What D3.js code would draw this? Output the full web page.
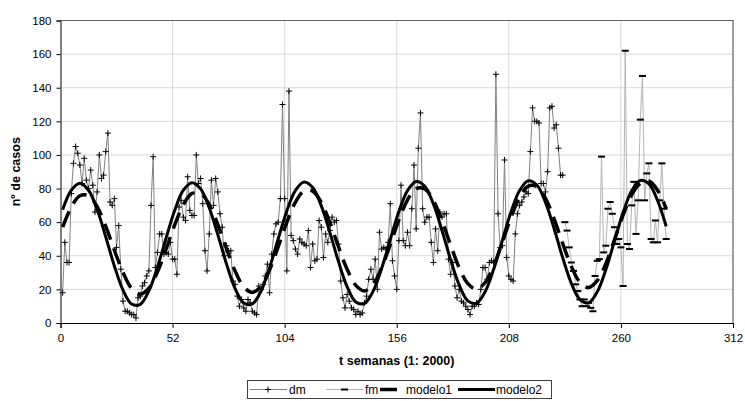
<!DOCTYPE html>
<html>
<head>
<meta charset="utf-8">
<script src="https://cdn.jsdelivr.net/npm/d3@7"></script>
<style>
  body { margin: 0; background: #fff; }
  text { font-family: "Liberation Sans", Arial, sans-serif; }
</style>
</head>
<body>
<div id="chart"></div>
<script>
// weekly cases, observed (dm) then forecast period (fm)
const dmStart = 1;
const dmValues = [
  18,48,36,36,77,95,105,101,94,83,
  98,85,80,91,82,66,78,100,86,88,
  102,113,72,70,74,45,58,32,13,7,
  7,6,5,5,3,15,16,22,24,28,
  31,70,99,33,42,53,53,41,42,41,
  48,38,38,29,69,73,63,61,87,67,
  64,64,100,83,86,71,43,31,53,85,
  70,86,78,65,57,40,46,43,43,25,
  23,16,10,14,9,7,14,12,7,6,
  5,22,20,23,28,35,18,41,53,59,
  60,74,130,74,31,138,52,49,44,41,
  50,48,47,46,55,33,47,37,38,61,
  57,39,53,48,55,63,60,61,47,25,
  15,9,17,13,9,8,5,7,5,6,
  12,16,26,32,26,38,20,54,44,45,
  44,48,71,37,28,20,49,82,49,46,
  54,46,68,94,56,104,125,68,60,63,
  63,48,36,56,43,66,63,65,65,38,
  29,36,22,15,20,13,12,10,8,5,
  10,10,12,11,20,33,33,26,36,37,
  36,148,65,45,46,97,39,28,26,25,
  53,65,70,72,75,78,77,102,128,120,
  120,119,83,83,78,90,128,129,116,118,
  104,88,88
];
const fmStart = 234;
const fmValues = [
  60,55,45,36,31,23,19,14,10,14,
  10,12,9,7,28,37,38,99,42,46,
  68,72,65,57,47,50,45,22,162,47,
  44,70,84,53,73,121,147,73,89,95,
  50,48,61,48,73,95,68,50
];
// model curves read every 4 weeks
const modelWeeks = d3.range(1, 282, 4);
const modelo1 = [
  57.0,68.9,75.7,75.8,69.2,57.5,43.3,30.0,20.6,17.2,
  20.7,30.4,44.0,58.4,70.4,77.1,77.1,70.5,58.6,44.3,
  30.9,21.5,18.2,21.8,31.6,45.4,59.9,71.9,78.6,78.5,
  71.7,59.7,45.3,31.9,22.4,19.1,22.9,32.9,46.7,61.3,
  73.3,80.0,79.8,72.9,60.8,46.3,32.8,23.4,20.1,24.1,
  34.1,48.1,62.8,74.8,81.5,81.2,74.2,61.9,47.3,33.7,
  24.2,21.1,25.2,35.3,49.5,64.2,76.3,83.0,84.5,79.0,
  68.0
];
const modelo2 = [
  67.4,79.0,83.2,79.0,67.5,51.2,33.9,19.6,11.3,11.1,
  19.1,33.3,50.6,67.1,79.0,83.5,79.8,68.6,52.5,35.2,
  20.5,11.9,11.4,18.9,32.9,50.1,66.7,78.9,83.9,80.6,
  69.7,53.8,36.4,21.5,12.5,11.6,18.8,32.5,49.7,66.4,
  78.8,84.2,81.4,70.8,55.0,37.6,22.5,13.2,11.8,18.6,
  32.1,49.2,66.0,78.8,84.6,82.1,71.8,56.2,38.8,23.6,
  13.9,12.0,18.5,31.7,48.7,65.7,78.7,84.8,82.8,72.9,
  57.5
];
const xTicks = [0, 52, 104, 156, 208, 260, 312];
const yTicks = [0, 20, 40, 60, 80, 100, 120, 140, 160, 180];

const W = 745, H = 401;
const svg = d3.select("#chart").append("svg").attr("width", W).attr("height", H);

const x = d3.scaleLinear().domain([0, 312]).range([60.5, 733]);
const y = d3.scaleLinear().domain([0, 180]).range([323, 20.5]);

const dm = dmValues.map((v, i) => ({t: dmStart + i, v: v}));
const fm = fmValues.map((v, i) => ({t: fmStart + i, v: v}));
const m1 = modelWeeks.map((t, i) => ({t: t, v: modelo1[i]}));
const m2 = modelWeeks.map((t, i) => ({t: t, v: modelo2[i]}));

//grid
svg.append("g").selectAll("line").data(yTicks.slice(1, -1)).enter().append("line")
  .attr("x1", x(0)).attr("x2", x(312))
  .attr("y1", d => y(d)).attr("y2", d => y(d))
  .attr("stroke", "#d9d9d9").attr("stroke-width", 1);
svg.append("g").selectAll("line").data(xTicks.slice(1, -1)).enter().append("line")
  .attr("x1", d => x(d)).attr("x2", d => x(d))
  .attr("y1", y(0)).attr("y2", y(180))
  .attr("stroke", "#d9d9d9").attr("stroke-width", 1);

//frame top and right
svg.append("path")
  .attr("d", "M" + x(0) + "," + y(180) + "H" + x(312) + "V" + y(0))
  .attr("fill", "none").attr("stroke", "#606060").attr("stroke-width", 1.2);

//axes
const yAxis = svg.append("g").attr("transform", "translate(" + x(0) + ",0)")
  .call(d3.axisLeft(y).tickValues(yTicks).tickSize(4).tickPadding(5));
const xAxis = svg.append("g").attr("transform", "translate(0," + y(0) + ")")
  .call(d3.axisBottom(x).tickValues(xTicks).tickSize(5).tickPadding(6));
[yAxis, xAxis].forEach(a => {
  a.selectAll("text").attr("font-size", 11.5).attr("fill", "#000")
    .style("font-family", "'Liberation Sans', Arial, sans-serif");
  a.selectAll("line, path").attr("stroke", "#000");
});

svg.append("text").attr("x", 396.75).attr("y", 365)
  .attr("text-anchor", "middle").attr("font-size", 12.5).attr("font-weight", "bold")
  .text("t semanas (1: 2000)");
svg.append("text").attr("transform", "translate(20,171.75) rotate(-90)")
  .attr("text-anchor", "middle").attr("font-size", 12.5).attr("font-weight", "bold")
  .text("nº de casos");

const line = d3.line().x(d => x(d.t)).y(d => y(d.v));
const smooth = d3.line().x(d => x(d.t)).y(d => y(d.v)).curve(d3.curveCatmullRom.alpha(0.5));

const plusPath = "M-3,0H3M0,-3V3";

// dm series
svg.append("path").datum(dm).attr("d", line)
  .attr("fill", "none").attr("stroke", "#808080").attr("stroke-width", 1);
svg.append("g").selectAll("path").data(dm).enter().append("path")
  .attr("d", plusPath)
  .attr("transform", d => "translate(" + x(d.t) + "," + y(d.v) + ")")
  .attr("stroke", "#000").attr("stroke-width", 1).attr("fill", "none");

// fm series
svg.append("path").datum(fm).attr("d", line)
  .attr("fill", "none").attr("stroke", "#b4b4b4").attr("stroke-width", 1);
svg.append("g").selectAll("rect").data(fm).enter().append("rect")
  .attr("x", d => x(d.t) - 3.5).attr("y", d => y(d.v) - 1)
  .attr("width", 7).attr("height", 2).attr("fill", "#000");

// models
svg.append("path").datum(m1).attr("d", smooth)
  .attr("fill", "none").attr("stroke", "#000").attr("stroke-width", 3.5)
  .attr("stroke-dasharray", "17,9");
svg.append("path").datum(m2).attr("d", smooth)
  .attr("fill", "none").attr("stroke", "#000").attr("stroke-width", 3);

//legend
const lg = svg.append("g");
lg.append("rect").attr("x", 247.5).attr("y", 380.5).attr("width", 304).attr("height", 18)
  .attr("fill", "#fff").attr("stroke", "#404040").attr("stroke-width", 1);
const ly = 389.5;
lg.append("line").attr("x1", 250).attr("x2", 287).attr("y1", ly).attr("y2", ly)
  .attr("stroke", "#808080").attr("stroke-width", 1);
lg.append("path").attr("d", plusPath).attr("transform", "translate(268," + ly + ")")
  .attr("stroke", "#000").attr("fill", "none");
lg.append("line").attr("x1", 326).attr("x2", 363).attr("y1", ly).attr("y2", ly)
  .attr("stroke", "#b4b4b4").attr("stroke-width", 1);
lg.append("rect").attr("x", 341).attr("y", ly - 1).attr("width", 7).attr("height", 2).attr("fill", "#000");
lg.append("line").attr("x1", 380).attr("x2", 403).attr("y1", ly).attr("y2", ly)
  .attr("stroke", "#000").attr("stroke-width", 3.5).attr("stroke-dasharray", "17,9");
lg.append("line").attr("x1", 458).attr("x2", 495).attr("y1", ly).attr("y2", ly)
  .attr("stroke", "#000").attr("stroke-width", 3);
const legendText = [["dm", 289], ["fm", 365], ["modelo1", 406], ["modelo2", 496]];
lg.selectAll("text.lt").data(legendText).enter().append("text")
  .attr("x", d => d[1]).attr("y", ly + 4.5).attr("font-size", 12).text(d => d[0]);
</script>
</body>
</html>
